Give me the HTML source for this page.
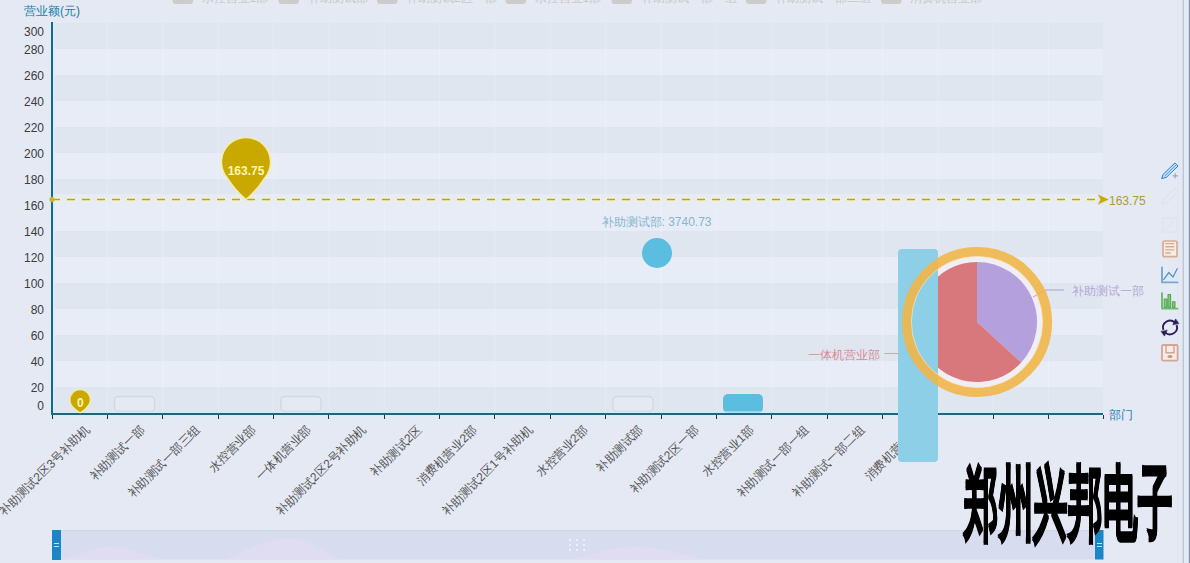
<!DOCTYPE html>
<html><head><meta charset="utf-8"><style>
html,body{margin:0;padding:0;width:1190px;height:563px;overflow:hidden;background:#e4e9f4;}
svg{display:block;font-family:"Liberation Sans",sans-serif;}
</style></head><body>
<svg width="1190" height="563" viewBox="0 0 1190 563">
<rect x="0" y="0" width="1190" height="563" fill="#e4e9f4"/>
<rect x="1177.5" y="0" width="1.5" height="563" fill="#e0e6f1"/>
<rect x="1182.6" y="0" width="1.4" height="563" fill="#bcc6d4"/>
<rect x="1184" y="0" width="4.8" height="563" fill="#e2eaf8"/>
<rect x="1188.8" y="0" width="1.2" height="563" fill="#8995ab"/>
<rect x="53" y="23" width="1050" height="26" fill="#e0e6f0"/>
<rect x="53" y="49" width="1050" height="26" fill="#e7ecf7"/>
<rect x="53" y="75" width="1050" height="26" fill="#e0e6f0"/>
<rect x="53" y="101" width="1050" height="26" fill="#e7ecf7"/>
<rect x="53" y="127" width="1050" height="26" fill="#e0e6f0"/>
<rect x="53" y="153" width="1050" height="26" fill="#e7ecf7"/>
<rect x="53" y="179" width="1050" height="26" fill="#e0e6f0"/>
<rect x="53" y="205" width="1050" height="26" fill="#e7ecf7"/>
<rect x="53" y="231" width="1050" height="26" fill="#e0e6f0"/>
<rect x="53" y="257" width="1050" height="26" fill="#e7ecf7"/>
<rect x="53" y="283" width="1050" height="26" fill="#e0e6f0"/>
<rect x="53" y="309" width="1050" height="26" fill="#e7ecf7"/>
<rect x="53" y="335" width="1050" height="26" fill="#e0e6f0"/>
<rect x="53" y="361" width="1050" height="26" fill="#e7ecf7"/>
<rect x="53" y="387" width="1050" height="26" fill="#e0e6f0"/>
<line x1="107.5" y1="22.5" x2="107.5" y2="412.5" stroke="#ffffff" stroke-opacity="0.2" stroke-width="1"/>
<line x1="162.8" y1="22.5" x2="162.8" y2="412.5" stroke="#ffffff" stroke-opacity="0.2" stroke-width="1"/>
<line x1="218.2" y1="22.5" x2="218.2" y2="412.5" stroke="#ffffff" stroke-opacity="0.2" stroke-width="1"/>
<line x1="273.5" y1="22.5" x2="273.5" y2="412.5" stroke="#ffffff" stroke-opacity="0.2" stroke-width="1"/>
<line x1="328.9" y1="22.5" x2="328.9" y2="412.5" stroke="#ffffff" stroke-opacity="0.2" stroke-width="1"/>
<line x1="384.3" y1="22.5" x2="384.3" y2="412.5" stroke="#ffffff" stroke-opacity="0.2" stroke-width="1"/>
<line x1="439.6" y1="22.5" x2="439.6" y2="412.5" stroke="#ffffff" stroke-opacity="0.2" stroke-width="1"/>
<line x1="495.0" y1="22.5" x2="495.0" y2="412.5" stroke="#ffffff" stroke-opacity="0.2" stroke-width="1"/>
<line x1="550.3" y1="22.5" x2="550.3" y2="412.5" stroke="#ffffff" stroke-opacity="0.2" stroke-width="1"/>
<line x1="605.7" y1="22.5" x2="605.7" y2="412.5" stroke="#ffffff" stroke-opacity="0.2" stroke-width="1"/>
<line x1="661.1" y1="22.5" x2="661.1" y2="412.5" stroke="#ffffff" stroke-opacity="0.2" stroke-width="1"/>
<line x1="716.4" y1="22.5" x2="716.4" y2="412.5" stroke="#ffffff" stroke-opacity="0.2" stroke-width="1"/>
<line x1="771.8" y1="22.5" x2="771.8" y2="412.5" stroke="#ffffff" stroke-opacity="0.2" stroke-width="1"/>
<line x1="827.1" y1="22.5" x2="827.1" y2="412.5" stroke="#ffffff" stroke-opacity="0.2" stroke-width="1"/>
<line x1="882.5" y1="22.5" x2="882.5" y2="412.5" stroke="#ffffff" stroke-opacity="0.2" stroke-width="1"/>
<line x1="937.9" y1="22.5" x2="937.9" y2="412.5" stroke="#ffffff" stroke-opacity="0.2" stroke-width="1"/>
<line x1="993.2" y1="22.5" x2="993.2" y2="412.5" stroke="#ffffff" stroke-opacity="0.2" stroke-width="1"/>
<line x1="1048.6" y1="22.5" x2="1048.6" y2="412.5" stroke="#ffffff" stroke-opacity="0.2" stroke-width="1"/>
<rect x="172.5" y="-10" width="20.5" height="14" rx="3" fill="#cccccc"/>
<text x="201.5" y="1.8" font-size="12" fill="#c8c8c8" font-family="Liberation Sans, sans-serif">水控营业1部</text>
<rect x="278.5" y="-10" width="20.5" height="14" rx="3" fill="#cccccc"/>
<text x="307.5" y="1.8" font-size="12" fill="#c8c8c8" font-family="Liberation Sans, sans-serif">补助测试部</text>
<rect x="377" y="-10" width="20.5" height="14" rx="3" fill="#cccccc"/>
<text x="406" y="1.8" font-size="12" fill="#c8c8c8" font-family="Liberation Sans, sans-serif">补助测试2区一部</text>
<rect x="505.5" y="-10" width="20.5" height="14" rx="3" fill="#cccccc"/>
<text x="534.5" y="1.8" font-size="12" fill="#c8c8c8" font-family="Liberation Sans, sans-serif">水控营业1部</text>
<rect x="611.5" y="-10" width="20.5" height="14" rx="3" fill="#cccccc"/>
<text x="640.5" y="1.8" font-size="12" fill="#c8c8c8" font-family="Liberation Sans, sans-serif">补助测试一部一组</text>
<rect x="746" y="-10" width="20.5" height="14" rx="3" fill="#cccccc"/>
<text x="775" y="1.8" font-size="12" fill="#c8c8c8" font-family="Liberation Sans, sans-serif">补助测试一部二组</text>
<rect x="881" y="-10" width="20.5" height="14" rx="3" fill="#cccccc"/>
<text x="910" y="1.8" font-size="12" fill="#c8c8c8" font-family="Liberation Sans, sans-serif">消费机营业部</text>
<text x="24" y="15" font-size="12" fill="#217ca9" font-family="Liberation Sans, sans-serif">营业额(元)</text>
<text x="44" y="35.5" font-size="12" fill="#3c3c3c" text-anchor="end" font-family="Liberation Sans, sans-serif">300</text>
<text x="44" y="53.5" font-size="12" fill="#3c3c3c" text-anchor="end" font-family="Liberation Sans, sans-serif">280</text>
<text x="44" y="79.5" font-size="12" fill="#3c3c3c" text-anchor="end" font-family="Liberation Sans, sans-serif">260</text>
<text x="44" y="105.5" font-size="12" fill="#3c3c3c" text-anchor="end" font-family="Liberation Sans, sans-serif">240</text>
<text x="44" y="131.5" font-size="12" fill="#3c3c3c" text-anchor="end" font-family="Liberation Sans, sans-serif">220</text>
<text x="44" y="157.5" font-size="12" fill="#3c3c3c" text-anchor="end" font-family="Liberation Sans, sans-serif">200</text>
<text x="44" y="183.5" font-size="12" fill="#3c3c3c" text-anchor="end" font-family="Liberation Sans, sans-serif">180</text>
<text x="44" y="209.5" font-size="12" fill="#3c3c3c" text-anchor="end" font-family="Liberation Sans, sans-serif">160</text>
<text x="44" y="235.5" font-size="12" fill="#3c3c3c" text-anchor="end" font-family="Liberation Sans, sans-serif">140</text>
<text x="44" y="261.5" font-size="12" fill="#3c3c3c" text-anchor="end" font-family="Liberation Sans, sans-serif">120</text>
<text x="44" y="287.5" font-size="12" fill="#3c3c3c" text-anchor="end" font-family="Liberation Sans, sans-serif">100</text>
<text x="44" y="313.5" font-size="12" fill="#3c3c3c" text-anchor="end" font-family="Liberation Sans, sans-serif">80</text>
<text x="44" y="339.5" font-size="12" fill="#3c3c3c" text-anchor="end" font-family="Liberation Sans, sans-serif">60</text>
<text x="44" y="365.5" font-size="12" fill="#3c3c3c" text-anchor="end" font-family="Liberation Sans, sans-serif">40</text>
<text x="44" y="391.5" font-size="12" fill="#3c3c3c" text-anchor="end" font-family="Liberation Sans, sans-serif">20</text>
<text x="44" y="409.5" font-size="12" fill="#3c3c3c" text-anchor="end" font-family="Liberation Sans, sans-serif">0</text>
<text x="0" y="0" font-size="12" fill="#555" text-anchor="end" dominant-baseline="central" transform="translate(87.3,427.5) rotate(-45)" font-family="Liberation Sans, sans-serif">补助测试2区3号补助机</text>
<text x="0" y="0" font-size="12" fill="#555" text-anchor="end" dominant-baseline="central" transform="translate(142.6,427.5) rotate(-45)" font-family="Liberation Sans, sans-serif">补助测试一部</text>
<text x="0" y="0" font-size="12" fill="#555" text-anchor="end" dominant-baseline="central" transform="translate(198.0,427.5) rotate(-45)" font-family="Liberation Sans, sans-serif">补助测试一部三组</text>
<text x="0" y="0" font-size="12" fill="#555" text-anchor="end" dominant-baseline="central" transform="translate(253.4,427.5) rotate(-45)" font-family="Liberation Sans, sans-serif">水控营业部</text>
<text x="0" y="0" font-size="12" fill="#555" text-anchor="end" dominant-baseline="central" transform="translate(308.7,427.5) rotate(-45)" font-family="Liberation Sans, sans-serif">一体机营业部</text>
<text x="0" y="0" font-size="12" fill="#555" text-anchor="end" dominant-baseline="central" transform="translate(364.1,427.5) rotate(-45)" font-family="Liberation Sans, sans-serif">补助测试2区2号补助机</text>
<text x="0" y="0" font-size="12" fill="#555" text-anchor="end" dominant-baseline="central" transform="translate(419.4,427.5) rotate(-45)" font-family="Liberation Sans, sans-serif">补助测试2区</text>
<text x="0" y="0" font-size="12" fill="#555" text-anchor="end" dominant-baseline="central" transform="translate(474.8,427.5) rotate(-45)" font-family="Liberation Sans, sans-serif">消费机营业2部</text>
<text x="0" y="0" font-size="12" fill="#555" text-anchor="end" dominant-baseline="central" transform="translate(530.2,427.5) rotate(-45)" font-family="Liberation Sans, sans-serif">补助测试2区1号补助机</text>
<text x="0" y="0" font-size="12" fill="#555" text-anchor="end" dominant-baseline="central" transform="translate(585.5,427.5) rotate(-45)" font-family="Liberation Sans, sans-serif">水控营业2部</text>
<text x="0" y="0" font-size="12" fill="#555" text-anchor="end" dominant-baseline="central" transform="translate(640.9,427.5) rotate(-45)" font-family="Liberation Sans, sans-serif">补助测试部</text>
<text x="0" y="0" font-size="12" fill="#555" text-anchor="end" dominant-baseline="central" transform="translate(696.2,427.5) rotate(-45)" font-family="Liberation Sans, sans-serif">补助测试2区一部</text>
<text x="0" y="0" font-size="12" fill="#555" text-anchor="end" dominant-baseline="central" transform="translate(751.6,427.5) rotate(-45)" font-family="Liberation Sans, sans-serif">水控营业1部</text>
<text x="0" y="0" font-size="12" fill="#555" text-anchor="end" dominant-baseline="central" transform="translate(807.0,427.5) rotate(-45)" font-family="Liberation Sans, sans-serif">补助测试一部一组</text>
<text x="0" y="0" font-size="12" fill="#555" text-anchor="end" dominant-baseline="central" transform="translate(862.3,427.5) rotate(-45)" font-family="Liberation Sans, sans-serif">补助测试一部二组</text>
<text x="0" y="0" font-size="12" fill="#555" text-anchor="end" dominant-baseline="central" transform="translate(917.7,427.5) rotate(-45)" font-family="Liberation Sans, sans-serif">消费机营业部</text>
<rect x="114.5" y="396.5" width="40" height="15" rx="4" fill="#e5e9f2" stroke="#d3d8e2" stroke-width="1.5"/>
<rect x="281" y="396.5" width="40" height="15" rx="4" fill="#e5e9f2" stroke="#d3d8e2" stroke-width="1.5"/>
<rect x="613" y="396.5" width="40" height="15" rx="4" fill="#e5e9f2" stroke="#d3d8e2" stroke-width="1.5"/>
<rect x="723" y="394" width="40" height="19" rx="5" fill="#5bbde0"/>
<rect x="53" y="411.5" width="1050" height="1.2" fill="#c8eefb"/>
<rect x="53" y="22" width="1.2" height="390" fill="#cdeffb"/>
<rect x="49.8" y="22" width="1.2" height="390" fill="#d6f0fa"/>
<rect x="51" y="22" width="2" height="393" fill="#22657c"/>
<rect x="53" y="415" width="1050" height="1.5" fill="#d2f0fb"/>
<rect x="51" y="413" width="1052" height="2" fill="#22657c"/>
<rect x="52" y="415" width="1" height="4" fill="#1c3642"/>
<rect x="107" y="415" width="1" height="4" fill="#1c3642"/>
<rect x="162" y="415" width="1" height="4" fill="#1c3642"/>
<rect x="218" y="415" width="1" height="4" fill="#1c3642"/>
<rect x="273" y="415" width="1" height="4" fill="#1c3642"/>
<rect x="328" y="415" width="1" height="4" fill="#1c3642"/>
<rect x="384" y="415" width="1" height="4" fill="#1c3642"/>
<rect x="439" y="415" width="1" height="4" fill="#1c3642"/>
<rect x="494" y="415" width="1" height="4" fill="#1c3642"/>
<rect x="550" y="415" width="1" height="4" fill="#1c3642"/>
<rect x="605" y="415" width="1" height="4" fill="#1c3642"/>
<rect x="661" y="415" width="1" height="4" fill="#1c3642"/>
<rect x="716" y="415" width="1" height="4" fill="#1c3642"/>
<rect x="771" y="415" width="1" height="4" fill="#1c3642"/>
<rect x="827" y="415" width="1" height="4" fill="#1c3642"/>
<rect x="882" y="415" width="1" height="4" fill="#1c3642"/>
<rect x="937" y="415" width="1" height="4" fill="#1c3642"/>
<rect x="993" y="415" width="1" height="4" fill="#1c3642"/>
<rect x="1048" y="415" width="1" height="4" fill="#1c3642"/>
<rect x="1103" y="415" width="1" height="4" fill="#1c3642"/>
<text x="1109" y="419" font-size="12" fill="#2282b4" font-family="Liberation Sans, sans-serif">部门</text>
<line x1="54" y1="199.5" x2="1098" y2="199.5" stroke="#e9edf6" stroke-opacity="0.75" stroke-width="11"/>
<defs><filter id="gl" filterUnits="userSpaceOnUse" x="40" y="185" width="1080" height="30"><feGaussianBlur stdDeviation="1.3"/></filter></defs>
<line x1="52" y1="199.5" x2="1098" y2="199.5" stroke="#f6f2c4" stroke-width="4" stroke-dasharray="9,6" stroke-dashoffset="0.5" filter="url(#gl)"/>
<line x1="52" y1="199.5" x2="1098" y2="199.5" stroke="#b3a232" stroke-width="1.7" stroke-dasharray="8,7"/>
<circle cx="52" cy="199.5" r="2.6" fill="#c9b43a"/>
<path d="M1108.8,199.5 L1097.8,194.6 L1100.6,199.5 L1097.8,204.4 Z" fill="#c9ab00"/>
<text x="1109" y="204.5" font-size="12" fill="#ab9c34" font-family="Liberation Sans, sans-serif">163.75</text>
<path d="M246.00,199.60 Q235.11,190.24 227.45,178.11 A24.5,24.5 0 1 1 264.55,178.11 Q256.89,190.24 246.00,199.60 Z" fill="#c9a800" stroke="#f6eda0" stroke-width="1.4"/>
<text x="246" y="175" font-size="12" font-weight="bold" fill="#fff6b0" text-anchor="middle" font-family="Liberation Sans, sans-serif">163.75</text>
<path d="M80.10,412.80 Q76.56,410.78 73.78,407.80 A10.2,10.2 0 1 1 86.42,407.80 Q83.64,410.78 80.10,412.80 Z" fill="#c9a800" stroke="#f6eda0" stroke-width="1.2"/>
<text x="80.3" y="407.3" font-size="12" font-weight="bold" fill="#fff6b0" text-anchor="middle" font-family="Liberation Sans, sans-serif">0</text>
<circle cx="657" cy="253" r="15" fill="#5bbde0"/>
<text x="601.5" y="226" font-size="12" fill="#86b6ca" font-family="Liberation Sans, sans-serif">补助测试部: 3740.73</text>
<circle cx="977" cy="322" r="65.5" fill="#f1eef6"/>
<path d="M977,322 L977,262 A60,60 0 0 1 1021.24,362.54 Z" fill="#b3a0dc"/>
<path d="M977,322 L1021.24,362.54 A60,60 0 1 1 977,262 Z" fill="#d9787c"/>
<polyline points="1033,297 1046,290 1064,290" fill="none" stroke="#a9a2c8" stroke-width="1"/>
<text x="1072" y="295" font-size="12" fill="#b5a6d6" font-family="Liberation Sans, sans-serif">补助测试一部</text>
<polyline points="917,353.5 884.5,353.5" fill="none" stroke="#d6a2aa" stroke-width="1"/>
<text x="808" y="358.5" font-size="12" fill="#d88a92" font-family="Liberation Sans, sans-serif">一体机营业部</text>
<rect x="898" y="249" width="40" height="213" rx="4" fill="#8dcfe6"/>
<circle cx="977" cy="322" r="70.3" fill="none" stroke="#f1b545" stroke-opacity="0.88" stroke-width="9.6"/>
<circle cx="977" cy="322" r="65.6" fill="none" stroke="#fae6b8" stroke-opacity="0.8" stroke-width="0.9"/>
<g stroke-linejoin="round" stroke-linecap="round">
<path d="M1162,178.5 L1166.4,177.3 L1178,166.1 L1175,162.9 L1163.4,174.1 Z" fill="#b4e2fa" stroke="#3a7cc0" stroke-width="1"/>
<path d="M1165,175.7 L1176.5,164.5" stroke="#3a7cc0" stroke-width="0.7" fill="none"/>
<path d="M1173,175.8 h4.4 M1175.2,173.6 v4.4" stroke="#9aa6c2" stroke-width="1.2" fill="none"/>
<path d="M1162,204 L1166.4,202.8 L1178,191.6 L1175,188.4 L1163.4,199.6 Z" fill="none" stroke="#dfe4ec" stroke-width="1.3"/>
<path d="M1163,218 h14 v14 h-14 z M1166,229 l8,-8" fill="none" stroke="#dfe4ec" stroke-width="1.3"/>
<rect x="1163" y="241" width="14" height="15.7" rx="1.8" fill="#f7ebe6" stroke="#d9ac92" stroke-width="1.7"/>
<path d="M1165.3,243.6 h9 M1165.3,246.7 h9 M1165.3,249.9 h9 M1165.3,253 h5.5" stroke="#d9ac92" stroke-width="1.4" fill="none" stroke-linecap="butt"/>
<path d="M1163.8,279.4 L1168.8,272.5 L1173,277 L1177.2,268.8 L1177.2,282 L1163,282 Z" fill="#dbeaf6" stroke="none"/>
<path d="M1162,267.4 V282.4 H1177.6" fill="none" stroke="#79a6d6" stroke-width="1.9"/>
<path d="M1163.8,279.4 L1168.8,272.5 L1173,277 L1177.2,268.8" fill="none" stroke="#5f8fc2" stroke-width="1.3"/>
<path d="M1162,293.1 V308.6 H1177.6" fill="none" stroke="#6cbc6c" stroke-width="1.9"/>
<path d="M1164.2,299 h2.6 v8.4 h-2.6 z M1168,294.5 h2.6 v12.9 h-2.6 z M1172.4,301.8 h2.6 v5.6 h-2.6 z" fill="#7ccc7c" stroke="#5aa85a" stroke-width="1.1"/>
<path d="M1163.4,329.9 A7,7 0 0 1 1174.9,322.6 M1176.6,325.1 A7,7 0 0 1 1165.1,332.4" fill="none" stroke="#2c1d54" stroke-width="1.9" stroke-linecap="butt"/>
<path d="M1178.8,323.4 L1175.6,318.9 L1172.9,324.5 Z M1161.2,331.6 L1164.4,336.1 L1167.1,330.5 Z" fill="#2c1d54" stroke="#2c1d54" stroke-width="0.6"/>
<rect x="1162" y="345" width="15.6" height="15.6" rx="1.2" fill="#f8ebe6" stroke="#cfa898" stroke-width="1.8"/>
<path d="M1166,345 v7.8 h8 v-7.8" fill="none" stroke="#cfa898" stroke-width="1.5"/>
<ellipse cx="1170" cy="356.6" rx="2.6" ry="1.5" fill="#c89a80" stroke="none"/>
</g>
<rect x="61" y="530" width="1034" height="29.5" fill="#d8dcef"/>
<rect x="61" y="530" width="1034" height="1.2" fill="#d0d4e6"/>
<path d="M63,559.5 C85,552 95,547 110,547 C125,547 140,553 161,559.5 Z" fill="#e0dcf2"/>
<path d="M225,559.5 C250,548 270,538.5 287,538.5 C305,538.5 320,550 342,559.5 Z" fill="#e0dcf2"/>
<path d="M574,559.5 C600,551 618,547 636,547 C655,547 680,553 705,559.5 Z" fill="#e0dcf2"/>
<g fill="#eceefa"><rect x="569" y="539" width="2" height="2"/><rect x="576" y="539" width="2" height="2"/><rect x="583" y="539" width="2" height="2"/><rect x="569" y="544" width="2" height="2"/><rect x="576" y="544" width="2" height="2"/><rect x="583" y="544" width="2" height="2"/><rect x="569" y="549" width="2" height="2"/><rect x="576" y="549" width="2" height="2"/><rect x="583" y="549" width="2" height="2"/></g>
<rect x="52" y="530" width="9" height="30" fill="#1a86c6"/>
<path d="M54,543.5 h5 M54,546.5 h5" stroke="#aef0ff" stroke-width="1"/>
<rect x="1095" y="530" width="8.5" height="29.5" fill="#1a86c6"/>
<path d="M1097,543.5 h5 M1097,546.5 h5" stroke="#aef0ff" stroke-width="1"/>
<text x="0" y="0" font-size="86" font-weight="900" fill="#000" stroke="#000" stroke-width="2" transform="translate(964,530) scale(0.41,0.93)" textLength="508" lengthAdjust="spacingAndGlyphs" font-family="Liberation Sans, sans-serif">郑州兴邦电子</text>
<text x="0" y="0" font-size="86" font-weight="900" fill="#000" stroke="#000" stroke-width="2" transform="translate(964,531.6) scale(0.41,0.93)" textLength="508" lengthAdjust="spacingAndGlyphs" font-family="Liberation Sans, sans-serif">郑州兴邦电子</text>
</svg></body></html>
